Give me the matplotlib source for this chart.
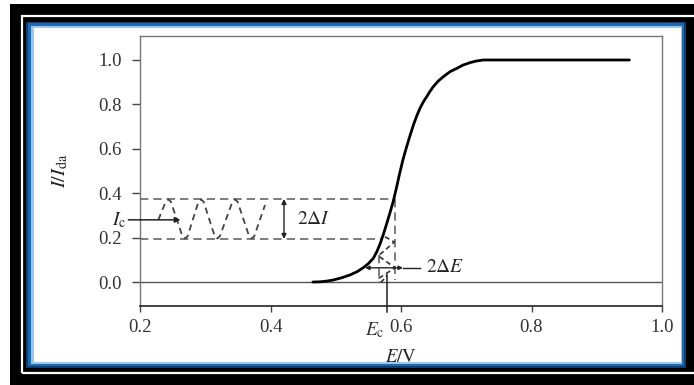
import matplotlib
matplotlib.use("Agg")
import matplotlib.pyplot as plt
from matplotlib.patches import Rectangle

# ---- data ----
E_curve = [0.465, 0.476, 0.486, 0.496, 0.509, 0.522, 0.533, 0.542, 0.550, 0.5576,
           0.563, 0.568, 0.573, 0.578, 0.583, 0.588, 0.593, 0.598, 0.603, 0.6087,
           0.614, 0.619, 0.624, 0.629, 0.634, 0.6394, 0.6445, 0.6495, 0.657, 0.665,
           0.675, 0.6854, 0.695, 0.7057, 0.715, 0.726, 0.76, 0.95]
I_curve = [0.0, 0.001, 0.004, 0.009, 0.019, 0.032, 0.047, 0.064, 0.083, 0.107,
           0.137, 0.172, 0.215, 0.262, 0.311, 0.362, 0.424, 0.49, 0.551, 0.61,
           0.661, 0.707, 0.747, 0.782, 0.81, 0.835, 0.859, 0.88, 0.905, 0.925,
           0.947, 0.962, 0.977, 0.988, 0.995, 1.0, 1.0, 1.0]

# current modulation (schematic wave) vertices
E_wave = [0.228, 0.2395, 0.2434, 0.2473, 0.265, 0.269, 0.273, 0.2896, 0.2935, 0.2974,
          0.3146, 0.3185, 0.3224, 0.3417, 0.3456, 0.3495, 0.3673, 0.3712, 0.3751, 0.3916]
I_wave = [0.28, 0.362, 0.372, 0.362, 0.206, 0.196, 0.206, 0.362, 0.372, 0.362,
          0.206, 0.196, 0.206, 0.362, 0.372, 0.362, 0.206, 0.196, 0.206, 0.347]

# potential modulation (vertical schematic wave) vertices
E_vwave = [0.5755, 0.5898, 0.5652, 0.5908, 0.5663, 0.5700, 0.5785]
I_vwave = [0.204, 0.180, 0.118, 0.064, 0.017, 0.000, 0.030]

I_c = 0.28
I_hi, I_lo = 0.374, 0.194
E_c = 0.5785
E_lo, E_hi = 0.566, 0.5905

x_ticks = [0.2, 0.4, 0.6, 0.8, 1.0]
x_ticklabels = ["0.2", "0.4", "0.6", "0.8", "1.0"]
y_ticks = [0.0, 0.2, 0.4, 0.6, 0.8, 1.0]
y_ticklabels = ["0.0", "0.2", "0.4", "0.6", "0.8", "1.0"]

plt.rcParams["font.family"] = ["Liberation Serif", "DejaVu Serif"]
plt.rcParams["mathtext.fontset"] = "stix"

W, H = 694, 385
fig = plt.figure(figsize=(W / 100, H / 100), dpi=100)
fig.patch.set_facecolor("white")


def frect(x0, y0, x1, y1, z, **kw):
    fig.add_artist(Rectangle((x0 / W, 1 - y1 / H), (x1 - x0) / W, (y1 - y0) / H,
                             transform=fig.transFigure, zorder=z, **kw))


# decorative frame
frect(10, 4, 720, 400, -10, facecolor="black", edgecolor="none")
frect(22, 16, 730, 373, -9, facecolor="none", edgecolor="white", linewidth=1.6)
frect(26.5, 21.5, 685.5, 367.5, -8, facecolor="#0d3f72", edgecolor="none")
frect(28, 23, 684, 366, -7, facecolor="#1f6aae", edgecolor="none")
frect(31, 26, 682, 364, -6, facecolor="#9cc6ea", edgecolor="none")
frect(33.5, 28, 681, 362, -5, facecolor="white", edgecolor="none")

ax = fig.add_axes([140 / W, 1 - 306 / H, (662 - 140) / W, (306 - 36) / H])
ax.set_zorder(2)
ax.patch.set_facecolor("white")
ax.set_xlim(0.2, 1.0)
ax.set_ylim(-0.108, 1.108)

for s in ["left", "right", "top"]:
    ax.spines[s].set_color("#777777")
    ax.spines[s].set_linewidth(1.0)
ax.spines["bottom"].set_color("#222222")
ax.spines["bottom"].set_linewidth(1.2)

ax.set_xticks(x_ticks)
ax.set_xticklabels(x_ticklabels)
ax.set_yticks(y_ticks)
ax.set_yticklabels(y_ticklabels)
ax.tick_params(axis="y", direction="out", length=6, width=1.0, color="#444444",
               pad=7, labelsize=13.5, labelcolor="#333333")
ax.tick_params(axis="x", direction="out", length=4.5, width=1.0, color="#444444",
               pad=5, labelsize=13.5, labelcolor="#333333")

ax.set_xlabel(r"$E/\mathrm{V}$", fontsize=13.5, color="#222222")
ax.xaxis.set_label_coords(0.5, (306 - 358) / 270)
ax.xaxis.label.set_va("center")
ax.set_ylabel(r"$I/I_{\mathrm{da}}$", fontsize=14.5, color="#222222")
ax.yaxis.set_label_coords((60 - 140) / 522, 0.5)
ax.yaxis.label.set_va("center")

# baseline
ax.axhline(0.0, color="#555555", linewidth=1.0, zorder=2)

# polarization curve
ax.plot(E_curve, I_curve, color="black", linewidth=2.0, solid_capstyle="round",
        solid_joinstyle="round", zorder=4)

# dashed guide lines
dash_kw = dict(color="#666666", linewidth=1.2, linestyle=(0, (5, 3)), zorder=3)
ax.plot([0.2, E_hi], [I_hi, I_hi], **dash_kw)
ax.plot([0.2, 0.5695], [I_lo, I_lo], **dash_kw)
ax.plot([E_hi, E_hi], [I_hi, 0.01], **dash_kw)
ax.plot([E_lo, E_lo], [0.12, 0.0], **dash_kw)

# current modulation wave
ax.plot(E_wave, I_wave, color="#444444", linewidth=1.3, linestyle=(0, (3.5, 2.5)),
        solid_joinstyle="round", zorder=3)

# potential modulation wave
ax.plot(E_vwave, I_vwave, color="#333333", linewidth=1.2, linestyle=(0, (3, 2)),
        zorder=3)

# E_c vertical line
ax.plot([E_c, E_c], [0.03, -0.135], color="#222222", linewidth=1.1, clip_on=False,
        zorder=3)

# I_c arrow
ax.annotate("", xy=(0.262, I_c), xytext=(0.182, I_c), annotation_clip=False,
            arrowprops=dict(arrowstyle="-|>", color="#222222", lw=1.1,
                            mutation_scale=8, shrinkA=0, shrinkB=0))
ax.text(0.1785, I_c, r"$I_{\mathrm{c}}$", fontsize=14, ha="right", va="center",
        color="#222222", clip_on=False)

# 2 delta I arrow
ax.annotate("", xy=(0.4207, I_hi), xytext=(0.4207, I_lo),
            arrowprops=dict(arrowstyle="<|-|>", color="#222222", lw=1.0,
                            mutation_scale=7, shrinkA=0, shrinkB=0))
ax.text(0.4406, I_c, r"$2\Delta I$", fontsize=14, ha="left", va="center",
        color="#222222")

# 2 delta E arrow
ax.annotate("", xy=(0.545, 0.064), xytext=(0.603, 0.064),
            arrowprops=dict(arrowstyle="<|-|>", color="#222222", lw=1.0,
                            mutation_scale=6, shrinkA=0, shrinkB=0), zorder=5)
ax.plot([0.603, 0.629], [0.064, 0.064], color="#222222", linewidth=1.0, zorder=5)
ax.text(0.639, 0.064, r"$2\Delta E$", fontsize=14, ha="left", va="center",
        color="#222222")

# E_c label under axis
ax.text(0.5755, -0.216, r"$E_{\mathrm{c}}$", fontsize=14, ha="right", va="center",
        color="#333333", clip_on=False)

fig.savefig("out.png", dpi=100, facecolor=fig.get_facecolor())
